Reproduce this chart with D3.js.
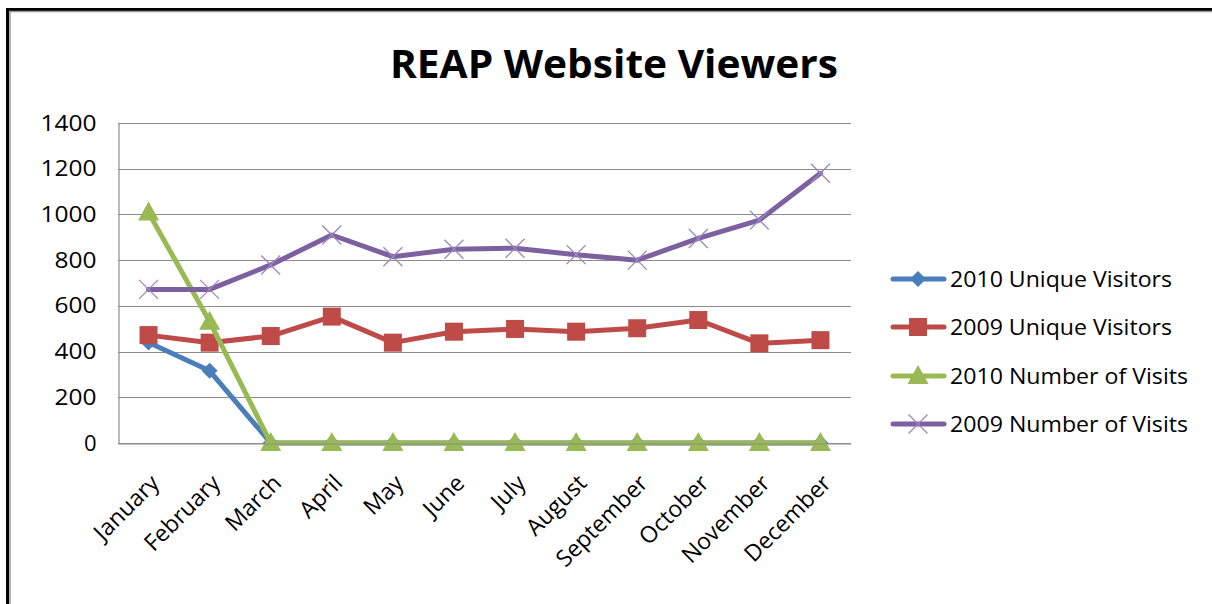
<!DOCTYPE html>
<html><head><meta charset="utf-8">
<script src="https://cdn.jsdelivr.net/npm/d3@7"></script>
<style>
html,body{margin:0;padding:0;background:#fff;}
svg{display:block;}
text{font-family:"Open Sans","Liberation Sans",sans-serif;fill:#000;}
</style></head><body>
<svg id="c" width="1212" height="604"></svg>
<script>
const months = ["January","February","March","April","May","June","July","August","September","October","November","December"];
const yTicks = [0,200,400,600,800,1000,1200,1400];
const seriesNames = ["2010 Unique Visitors","2009 Unique Visitors","2010 Number of Visits","2009 Number of Visits"];
const unique2010 = [440,316,0,0,0,0,0,0,0,0,0,0];
const unique2009 = [472,439,468,553,439,487,499,487,502,538,436,450];
const visits2010 = [1008,531,0,0,0,0,0,0,0,0,0,0];
const visits2009 = [672,672,779,910,815,848,852,824,800,895,975,1180];
const colors = ["#4A7EBB","#BE4B48","#98B954","#7D60A0"];
const markers = ["diamond","square","triangle","x"];

const FONT = "'Open Sans','Liberation Sans',sans-serif";
const svg = d3.select("#c");
// outer border
svg.append("rect").attr("x",7.5).attr("y",9.5).attr("width",1220).attr("height",620)
  .attr("fill","none").attr("stroke","#000").attr("stroke-width",3);
svg.append("rect").attr("x",10).attr("y",11.5).attr("width",1220).attr("height",620)
  .attr("fill","none").attr("stroke","#999").attr("stroke-width",1.5);

svg.append("text").attr("x",614).attr("y",78).attr("text-anchor","middle")
  .style("font-family",FONT).style("font-weight","bold").style("font-size","40px")
  .attr("textLength",448).attr("lengthAdjust","spacingAndGlyphs")
  .text("REAP Website Viewers");

const L=118, R=851, T=123, B=443;
const x = d3.scaleBand().domain(months).range([L,R]);
const y = d3.scaleLinear().domain([0,1400]).range([B,T]);

const g = svg.append("g");
// gridlines
g.selectAll("line.grid").data(yTicks).enter().append("line")
  .attr("x1",L).attr("x2",R).attr("y1",d=>Math.round(y(d))+0.5).attr("y2",d=>Math.round(y(d))+0.5)
  .attr("stroke","#8c8c8c").attr("stroke-width",1.2);
// y axis
const yAxis = d3.axisLeft(y).tickValues(yTicks).tickSize(0).tickPadding(22).tickFormat(d3.format("d"));
const ya = svg.append("g").attr("transform",`translate(${L+0.5},0)`).call(yAxis);
ya.select(".domain").attr("stroke","#8c8c8c").attr("stroke-width",1.2);
ya.selectAll("text").style("font-size","22px").style("font-family",FONT).attr("fill","#000")
  .attr("textLength",56).attr("lengthAdjust","spacingAndGlyphs");
ya.selectAll("text").filter(d=>d<1000).attr("textLength",null);
ya.selectAll("text").filter(d=>d>0 && d<1000).attr("textLength",42);
// x axis
const xAxis = d3.axisBottom(x).tickSize(0).tickPadding(0);
const xa = svg.append("g").attr("transform",`translate(0,${Math.round(B)+0.5})`).call(xAxis);
xa.select(".domain").attr("stroke","#8c8c8c").attr("stroke-width",1.2);
xa.selectAll("text").style("font-size","23px").style("font-family",FONT)
  .attr("fill","#000").attr("text-anchor","end").attr("dy",0).attr("y",0)
  .attr("transform","translate(12,41) rotate(-45)");

const data = [unique2010, unique2009, visits2010, visits2009];
const line = d3.line().x((d,i)=>x(months[i])+x.bandwidth()/2).y(d=>y(d));

function marker(sel, type, color){
  if(type==="diamond") sel.append("path").attr("d","M0,-8 L8,0 L0,8 L-8,0 Z").attr("fill",color);
  else if(type==="square") sel.append("rect").attr("x",-9).attr("y",-9).attr("width",18).attr("height",18).attr("fill",color);
  else if(type==="triangle") sel.append("path").attr("d","M0,-11 L10.5,8 L-10.5,8 Z").attr("fill",color);
  else if(type==="x") sel.append("path").attr("d","M-9.5,-9.5 L9.5,9.5 M-9.5,9.5 L9.5,-9.5").attr("stroke","#9c86c0").attr("stroke-width",1.3).attr("fill","none");
}

data.forEach((vals,k)=>{
  g.append("path").datum(vals).attr("d",line).attr("fill","none").attr("stroke",colors[k])
    .attr("stroke-width",5).attr("stroke-linejoin","round").attr("stroke-linecap","round");
  vals.forEach((v,i)=>{
    const m = g.append("g").attr("transform",`translate(${x(months[i])+x.bandwidth()/2},${y(v)})`);
    marker(m, markers[k], colors[k]);
  });
});

// legend
const legY = [279,327,376,424];
const legW = [222,222,238,238];
seriesNames.forEach((n,k)=>{
  const lg = svg.append("g").attr("transform",`translate(0,${legY[k]})`);
  lg.append("line").attr("x1",893).attr("x2",944).attr("y1",0).attr("y2",0)
    .attr("stroke",colors[k]).attr("stroke-width",5).attr("stroke-linecap","round");
  const m = lg.append("g").attr("transform","translate(918,0)");
  marker(m, markers[k], colors[k]);
  lg.append("text").attr("x",950).attr("y",8).style("font-size","22px")
    .attr("textLength",legW[k]).attr("lengthAdjust","spacingAndGlyphs").text(n);
});
</script>
</body></html>
